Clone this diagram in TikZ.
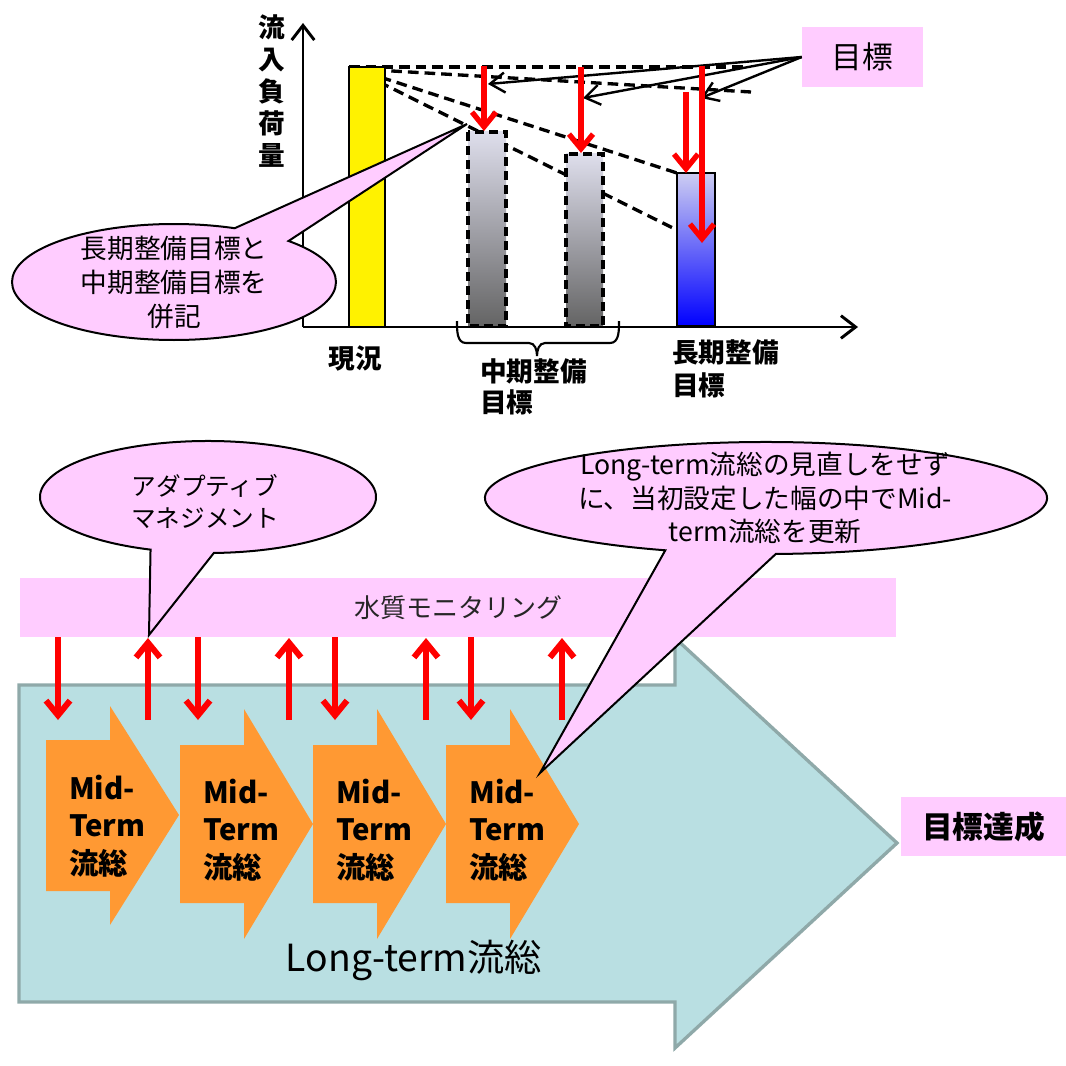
\documentclass[tikz,border=0pt]{standalone}
\usepackage{fontspec}
\setmainfont{Noto Sans CJK JP}
\usetikzlibrary{arrows.meta}
\definecolor{pinkf}{HTML}{FFCCFF}
\definecolor{orangef}{HTML}{FF9933}
\definecolor{tealf}{HTML}{B9DFE2}
\definecolor{tealb}{HTML}{8FA9A9}
\definecolor{graytop}{RGB}{222,222,236}
\definecolor{graybot}{RGB}{100,100,100}
\definecolor{bluetop}{RGB}{205,205,242}
\begin{document}
\begin{tikzpicture}[x=0.75pt,y=-0.75pt,
  pinkbox/.style={fill=pinkf, inner sep=0pt},
  dline/.style={draw=black, line width=2.5pt, dash pattern=on 8pt off 4.5pt},
  redarr/.style={draw=red, line width=4pt, -{Straight Barb[length=11pt,width=18pt]}},
  redarrl/.style={draw=red, line width=4.5pt, -{Straight Barb[length=11pt,width=18pt]}},
  blkarr/.style={draw=black, line width=1.8pt, -{Straight Barb[length=11pt,width=15pt]}},
  axisline/.style={draw=black, line width=2.2pt, -{Straight Barb[length=11pt,width=17pt]}},
  callout/.style={fill=pinkf, draw=black, line width=1.5pt},
  btxt/.style={font=\bfseries\fontsize{20}{24}\selectfont, inner sep=0pt},
  midtxt/.style={font=\bfseries\fontsize{22}{28}\selectfont, align=left, inner sep=0pt, anchor=west},
]
\useasboundingbox (0,0) rectangle (1066,1066);
\fill[white] (0,0) rectangle (1066,1066);

% ---------- top chart ----------
\coordinate (ytop) at (349,67);
\draw[dline] (ytop) -- (745,67);
\draw[dline] (358,69) -- (751,92);
\draw[dline] (ytop) -- (677,173);
\draw[dline] (ytop) -- (697,240);

% goal box and its arrows
\node[pinkbox, minimum width=90.75pt, minimum height=45pt, font=\fontsize{23}{27}\selectfont] (goal) at (862.5,57) {目標};
\coordinate (g1) at (488,84);
\coordinate (g2) at (583,98);
\coordinate (g3) at (701,98);
\draw[blkarr] (goal.west) -- (g1);
\draw[blkarr] (goal.west) -- (g2);
\draw[blkarr] (goal.west) -- (g3);

% bars
\draw[fill=yellow, line width=2.2pt] (349,67) rectangle (385,327);
\draw[top color=graytop, bottom color=graybot, line width=2.4pt, dash pattern=on 7pt off 3.5pt] (468,132) rectangle (506,326);
\draw[top color=graytop, bottom color=graybot, line width=2.4pt, dash pattern=on 7pt off 3.5pt] (566,154) rectangle (603,326);
\draw[top color=bluetop, bottom color=blue, line width=2.2pt] (677,173) rectangle (715,326);

% axes
\coordinate (origin) at (303,327);
\coordinate (yend) at (303,23);
\coordinate (xend) at (858,327);
\draw[axisline] (origin) -- (yend);
\draw[axisline] (origin) -- (xend);

% red arrows
\draw[redarr] (484,66) -- (484,131);
\draw[redarr] (581,67) -- (581,153);
\draw[redarr] (686,92) -- (686,173);
\draw[redarr] (702,66) -- (702,243);

% brace
\draw[line width=1.6pt] (457,321) to[out=-90,in=180] (466,343) -- (529,343) to[out=0,in=90] (537,356) to[out=90,in=180] (545,343) -- (610,343) to[out=0,in=-90] (619,321);

% labels
\node[btxt, align=center] (ylab) at (272,91) {流\\入\\負\\荷\\量};
\node[btxt] (lab1) at (355,358) {現況};
\node[btxt, align=left, anchor=west, font=\bfseries\fontsize{20}{23}\selectfont] (lab2) at (480,387) {中期整備\\目標};
\node[btxt, align=left, anchor=west, font=\bfseries\fontsize{20}{24.5}\selectfont] (lab3) at (672,369) {長期整備\\目標};

% callout 1
\coordinate (c1tip) at (467,124);
\path[callout] (174,282) ++(-45:162 and 58) arc[start angle=-45, end angle=292, x radius=162, y radius=58] -- (c1tip) -- cycle;
\node[font=\fontsize{20}{25.5}\selectfont, align=center] (c1txt) at (174,282) {長期整備目標と\\中期整備目標を\\併記};

% ---------- lower section ----------
\node[pinkbox, minimum width=657pt, minimum height=44.25pt, font=\fontsize{19.5}{24}\selectfont, text=black!85] (band) at (458,607.5) {水質モニタリング};

\draw[fill=tealf, draw=tealb, line width=2.5pt] (19,685) -- (675,685) -- (675,638) -- (897,843) -- (675,1048) -- (675,1002) -- (19,1002) -- cycle;

\fill[orangef] (46,740) -- (110,740) -- (110,706) -- (179,815) -- (110,925) -- (110,891) -- (46,891) -- cycle;
\foreach \L in {180,313,446} {
  \fill[orangef] (\L,745) -- ++(64,0) -- ++(0,-36) -- ++(69,115) -- ++(-69,115) -- ++(0,-36) -- ++(-64,0) -- cycle;
}
\node[midtxt] (m1) at (69,826) {Mid-\\Term\\流総};
\node[midtxt] (m2) at (203,830) {Mid-\\Term\\流総};
\node[midtxt] (m3) at (336,830) {Mid-\\Term\\流総};
\node[midtxt] (m4) at (469,830) {Mid-\\Term\\流総};

\foreach \x in {58,198,335,471} { \draw[redarrl] (\x,637) -- (\x,720); }
\foreach \x in {148,289,426,562} { \draw[redarrl] (\x,720) -- (\x,638); }

\node[font=\fontsize{28}{32}\selectfont] (lt) at (414,960) {Long-term流総};

\node[pinkbox, minimum width=123.75pt, minimum height=44.25pt, font=\bfseries\fontsize{23}{27}\selectfont] (goal2) at (983.5,826.5) {目標達成};

% callout 2
\coordinate (c2tip) at (149,635);
\path[callout] (208,497) ++(110:168 and 56) arc[start angle=110, end angle=448, x radius=168, y radius=56] -- (c2tip) -- cycle;
\node[font=\fontsize{18.5}{24}\selectfont, align=center] (c2txt) at (205,501) {アダプティブ\\マネジメント};

% callout 3
\coordinate (c3tip) at (540,773);
\path[callout] (766,498) ++(111:281 and 56) arc[start angle=111, end angle=448, x radius=281, y radius=56] -- (c3tip) -- cycle;
\node[font=\fontsize{20}{25}\selectfont, align=center] (c3txt) at (765,498) {Long-term流総の見直しをせず\\に、当初設定した幅の中でMid-\\term流総を更新};
\end{tikzpicture}
\end{document}
